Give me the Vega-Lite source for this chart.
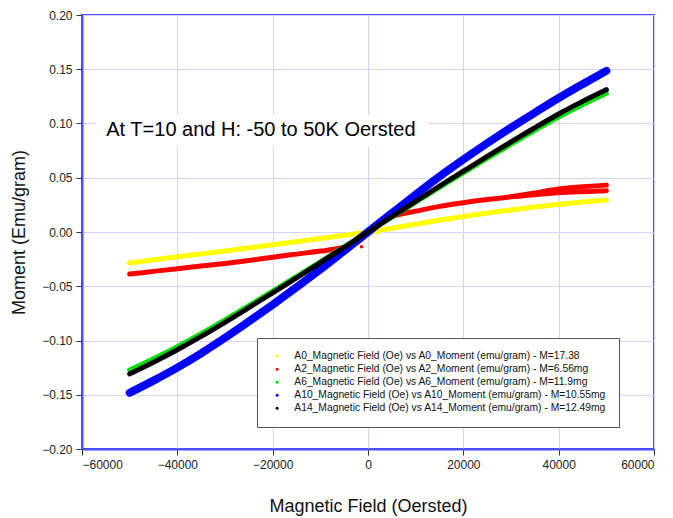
{
  "$schema": "https://vega.github.io/schema/vega-lite/v6.json",
  "width": 572,
  "height": 434,
  "autosize": {"type": "none"},
  "padding": {"left": 82, "top": 15, "right": 19, "bottom": 69},
  "background": "white",
  "config": {
    "font": "Liberation Sans",
    "view": {"stroke": "#4d4dff", "strokeWidth": 2},
    "axis": {
      "domainColor": "#4d4dff", "domainWidth": 2,
      "gridColor": "#d2d2ff", "gridWidth": 1,
      "tickColor": "#333333", "tickSize": 6,
      "labelFontSize": 12, "labelColor": "#222222",
      "titleFontSize": 18, "titleFontWeight": "normal", "titleColor": "#111111"
    }
  },
  "layer": [
    {
      "data": {"values": [{"x1": -56887, "x2": 12494, "y1": 0.0783, "y2": 0.1078, "label": "At T=10 and H: -50 to 50K Oersted", "tx": -54908, "ty": 0.094}]},
      "layer": [
        {
          "mark": {"type": "rect", "fill": "white"},
          "encoding": {
            "x": {"field": "x1", "type": "quantitative"},
            "x2": {"field": "x2"},
            "y": {"field": "y1", "type": "quantitative"},
            "y2": {"field": "y2"}
          }
        },
        {
          "mark": {"type": "text", "align": "left", "baseline": "middle", "fontSize": 20, "color": "#000000"},
          "encoding": {
            "x": {"field": "tx", "type": "quantitative"},
            "y": {"field": "ty", "type": "quantitative"},
            "text": {"field": "label"}
          }
        }
      ]
    },
    {
      "data": {"values": [
        {"series": "A0", "branch": "a", "H": -50000, "M": -0.0285},
        {"series": "A0", "branch": "a", "H": -40000, "M": -0.0228},
        {"series": "A0", "branch": "a", "H": -30000, "M": -0.0175},
        {"series": "A0", "branch": "a", "H": -20000, "M": -0.0117},
        {"series": "A0", "branch": "a", "H": -10000, "M": -0.0060},
        {"series": "A0", "branch": "a", "H": -5000, "M": -0.0031},
        {"series": "A0", "branch": "a", "H": 0, "M": 0.0},
        {"series": "A0", "branch": "a", "H": 5000, "M": 0.0035},
        {"series": "A0", "branch": "a", "H": 10000, "M": 0.0072},
        {"series": "A0", "branch": "a", "H": 20000, "M": 0.0142},
        {"series": "A0", "branch": "a", "H": 30000, "M": 0.0203},
        {"series": "A0", "branch": "a", "H": 40000, "M": 0.0255},
        {"series": "A0", "branch": "a", "H": 50000, "M": 0.0295},

        {"series": "A2", "branch": "a", "H": -50000, "M": -0.0388},
        {"series": "A2", "branch": "a", "H": -45000, "M": -0.0363},
        {"series": "A2", "branch": "a", "H": -40000, "M": -0.0338},
        {"series": "A2", "branch": "a", "H": -35000, "M": -0.0314},
        {"series": "A2", "branch": "a", "H": -30000, "M": -0.0290},
        {"series": "A2", "branch": "a", "H": -25000, "M": -0.0263},
        {"series": "A2", "branch": "a", "H": -20000, "M": -0.0232},
        {"series": "A2", "branch": "a", "H": -15000, "M": -0.0204},
        {"series": "A2", "branch": "a", "H": -10000, "M": -0.0176},
        {"series": "A2", "branch": "a", "H": -6000, "M": -0.0150},
        {"series": "A2", "branch": "a", "H": -3000, "M": -0.0112},
        {"series": "A2", "branch": "a", "H": -1500, "M": -0.0072},
        {"series": "A2", "branch": "a", "H": 0, "M": 0.0},
        {"series": "A2", "branch": "a", "H": 1500, "M": 0.0070},
        {"series": "A2", "branch": "a", "H": 3000, "M": 0.0112},
        {"series": "A2", "branch": "a", "H": 6000, "M": 0.0155},
        {"series": "A2", "branch": "a", "H": 10000, "M": 0.0192},
        {"series": "A2", "branch": "a", "H": 15000, "M": 0.0236},
        {"series": "A2", "branch": "a", "H": 20000, "M": 0.0270},
        {"series": "A2", "branch": "a", "H": 25000, "M": 0.0299},
        {"series": "A2", "branch": "a", "H": 30000, "M": 0.0324},
        {"series": "A2", "branch": "a", "H": 35000, "M": 0.0344},
        {"series": "A2", "branch": "a", "H": 40000, "M": 0.0361},
        {"series": "A2", "branch": "a", "H": 45000, "M": 0.0372},
        {"series": "A2", "branch": "a", "H": 50000, "M": 0.0381},
        {"series": "A2", "branch": "b", "H": 30000, "M": 0.0326},
        {"series": "A2", "branch": "b", "H": 35000, "M": 0.0360},
        {"series": "A2", "branch": "b", "H": 40000, "M": 0.0396},
        {"series": "A2", "branch": "b", "H": 45000, "M": 0.0417},
        {"series": "A2", "branch": "b", "H": 50000, "M": 0.0432},

        {"series": "A6", "branch": "a", "H": -50000, "M": -0.1272},
        {"series": "A6", "branch": "a", "H": -45000, "M": -0.1168},
        {"series": "A6", "branch": "a", "H": -40000, "M": -0.1057},
        {"series": "A6", "branch": "a", "H": -35000, "M": -0.0938},
        {"series": "A6", "branch": "a", "H": -30000, "M": -0.0811},
        {"series": "A6", "branch": "a", "H": -25000, "M": -0.0679},
        {"series": "A6", "branch": "a", "H": -20000, "M": -0.0546},
        {"series": "A6", "branch": "a", "H": -15000, "M": -0.0411},
        {"series": "A6", "branch": "a", "H": -10000, "M": -0.0275},
        {"series": "A6", "branch": "a", "H": -5000, "M": -0.0137},
        {"series": "A6", "branch": "a", "H": 0, "M": 0.0},
        {"series": "A6", "branch": "a", "H": 5000, "M": 0.0137},
        {"series": "A6", "branch": "a", "H": 10000, "M": 0.0275},
        {"series": "A6", "branch": "a", "H": 15000, "M": 0.0411},
        {"series": "A6", "branch": "a", "H": 20000, "M": 0.0546},
        {"series": "A6", "branch": "a", "H": 25000, "M": 0.0679},
        {"series": "A6", "branch": "a", "H": 30000, "M": 0.0809},
        {"series": "A6", "branch": "a", "H": 35000, "M": 0.0937},
        {"series": "A6", "branch": "a", "H": 40000, "M": 0.1060},
        {"series": "A6", "branch": "a", "H": 45000, "M": 0.1172},
        {"series": "A6", "branch": "a", "H": 50000, "M": 0.1278},

        {"series": "A10", "branch": "a", "H": -50000, "M": -0.1482},
        {"series": "A10", "branch": "a", "H": -45000, "M": -0.1370},
        {"series": "A10", "branch": "a", "H": -40000, "M": -0.1250},
        {"series": "A10", "branch": "a", "H": -35000, "M": -0.1118},
        {"series": "A10", "branch": "a", "H": -30000, "M": -0.0975},
        {"series": "A10", "branch": "a", "H": -25000, "M": -0.0825},
        {"series": "A10", "branch": "a", "H": -20000, "M": -0.0670},
        {"series": "A10", "branch": "a", "H": -15000, "M": -0.0510},
        {"series": "A10", "branch": "a", "H": -10000, "M": -0.0345},
        {"series": "A10", "branch": "a", "H": -5000, "M": -0.0173},
        {"series": "A10", "branch": "a", "H": 0, "M": 0.0},
        {"series": "A10", "branch": "a", "H": 5000, "M": 0.0173},
        {"series": "A10", "branch": "a", "H": 10000, "M": 0.0345},
        {"series": "A10", "branch": "a", "H": 15000, "M": 0.0512},
        {"series": "A10", "branch": "a", "H": 20000, "M": 0.0668},
        {"series": "A10", "branch": "a", "H": 25000, "M": 0.0818},
        {"series": "A10", "branch": "a", "H": 30000, "M": 0.0962},
        {"series": "A10", "branch": "a", "H": 35000, "M": 0.1100},
        {"series": "A10", "branch": "a", "H": 40000, "M": 0.1235},
        {"series": "A10", "branch": "a", "H": 45000, "M": 0.1362},
        {"series": "A10", "branch": "a", "H": 50000, "M": 0.1485},

        {"series": "A14", "branch": "a", "H": -50000, "M": -0.1308},
        {"series": "A14", "branch": "a", "H": -45000, "M": -0.1200},
        {"series": "A14", "branch": "a", "H": -40000, "M": -0.1085},
        {"series": "A14", "branch": "a", "H": -35000, "M": -0.0962},
        {"series": "A14", "branch": "a", "H": -30000, "M": -0.0832},
        {"series": "A14", "branch": "a", "H": -25000, "M": -0.0697},
        {"series": "A14", "branch": "a", "H": -20000, "M": -0.0560},
        {"series": "A14", "branch": "a", "H": -15000, "M": -0.0422},
        {"series": "A14", "branch": "a", "H": -10000, "M": -0.0282},
        {"series": "A14", "branch": "a", "H": -5000, "M": -0.0141},
        {"series": "A14", "branch": "a", "H": 0, "M": 0.0},
        {"series": "A14", "branch": "a", "H": 5000, "M": 0.0141},
        {"series": "A14", "branch": "a", "H": 10000, "M": 0.0282},
        {"series": "A14", "branch": "a", "H": 15000, "M": 0.0422},
        {"series": "A14", "branch": "a", "H": 20000, "M": 0.0560},
        {"series": "A14", "branch": "a", "H": 25000, "M": 0.0697},
        {"series": "A14", "branch": "a", "H": 30000, "M": 0.0830},
        {"series": "A14", "branch": "a", "H": 35000, "M": 0.0961},
        {"series": "A14", "branch": "a", "H": 40000, "M": 0.1088},
        {"series": "A14", "branch": "a", "H": 45000, "M": 0.1204},
        {"series": "A14", "branch": "a", "H": 50000, "M": 0.1312}
      ]},
      "mark": {"type": "line", "strokeCap": "round", "strokeJoin": "round", "interpolate": "monotone"},
      "encoding": {
        "x": {
          "field": "H", "type": "quantitative",
          "scale": {"domain": [-60000, 60000], "nice": false, "zero": false},
          "axis": {
            "title": "Magnetic Field (Oersted)",
            "values": [-60000, -40000, -20000, 0, 20000, 40000, 60000],
            "format": "d", "labelPadding": 4, "titlePadding": 27
          }
        },
        "y": {
          "field": "M", "type": "quantitative",
          "scale": {"domain": [-0.2, 0.2], "nice": false, "zero": false},
          "axis": {
            "title": "Moment (Emu/gram)",
            "values": [-0.2, -0.15, -0.1, -0.05, 0, 0.05, 0.1, 0.15, 0.2],
            "format": ".2f", "labelPadding": 4, "titlePadding": 13
          }
        },
        "color": {
          "field": "series", "type": "nominal",
          "scale": {
            "domain": ["A0", "A2", "A6", "A10", "A14"],
            "range": ["#ffff00", "#ff0000", "#00e000", "#0000ff", "#000000"]
          },
          "legend": {
            "orient": "none", "legendX": 175, "legendY": 323,
            "title": null,
            "fillColor": "white", "strokeColor": "#555555",
            "padding": 13, "symbolOffset": 2, "labelOffset": 12, "rowPadding": 2,
            "labelFontSize": 10.3, "labelColor": "#111111", "labelLimit": 0,
            "symbolType": "circle", "symbolSize": 9,
            "labelExpr": "datum.label == 'A0' ? 'A0_Magnetic Field (Oe) vs A0_Moment (emu/gram) - M=17.38' : datum.label == 'A2' ? 'A2_Magnetic Field (Oe) vs A2_Moment (emu/gram) - M=6.56mg' : datum.label == 'A6' ? 'A6_Magnetic Field (Oe) vs A6_Moment (emu/gram) - M=11.9mg' : datum.label == 'A10' ? 'A10_Magnetic Field (Oe) vs A10_Moment (emu/gram) - M=10.55mg' : 'A14_Magnetic Field (Oe) vs A14_Moment (emu/gram) - M=12.49mg'",
            "encode": {"symbols": {"update": {"fill": {"scale": "color", "field": "value"}, "strokeWidth": {"value": 0}, "size": {"value": 9}}}}
          }
        },
        "strokeWidth": {
          "condition": {"test": "datum.series == 'A10'", "value": 8},
          "value": 5
        },
        "detail": {"field": "branch"}
      }
    },
    {
      "data": {"values": [
        {"series": "A2", "H": -1365, "M": -0.0135},
        {"series": "A0", "H": 2100, "M": -0.0012}
      ]},
      "mark": {"type": "circle", "size": 12, "opacity": 1},
      "encoding": {
        "x": {"field": "H", "type": "quantitative"},
        "y": {"field": "M", "type": "quantitative"},
        "color": {"field": "series", "type": "nominal"}
      }
    }
  ]
}
